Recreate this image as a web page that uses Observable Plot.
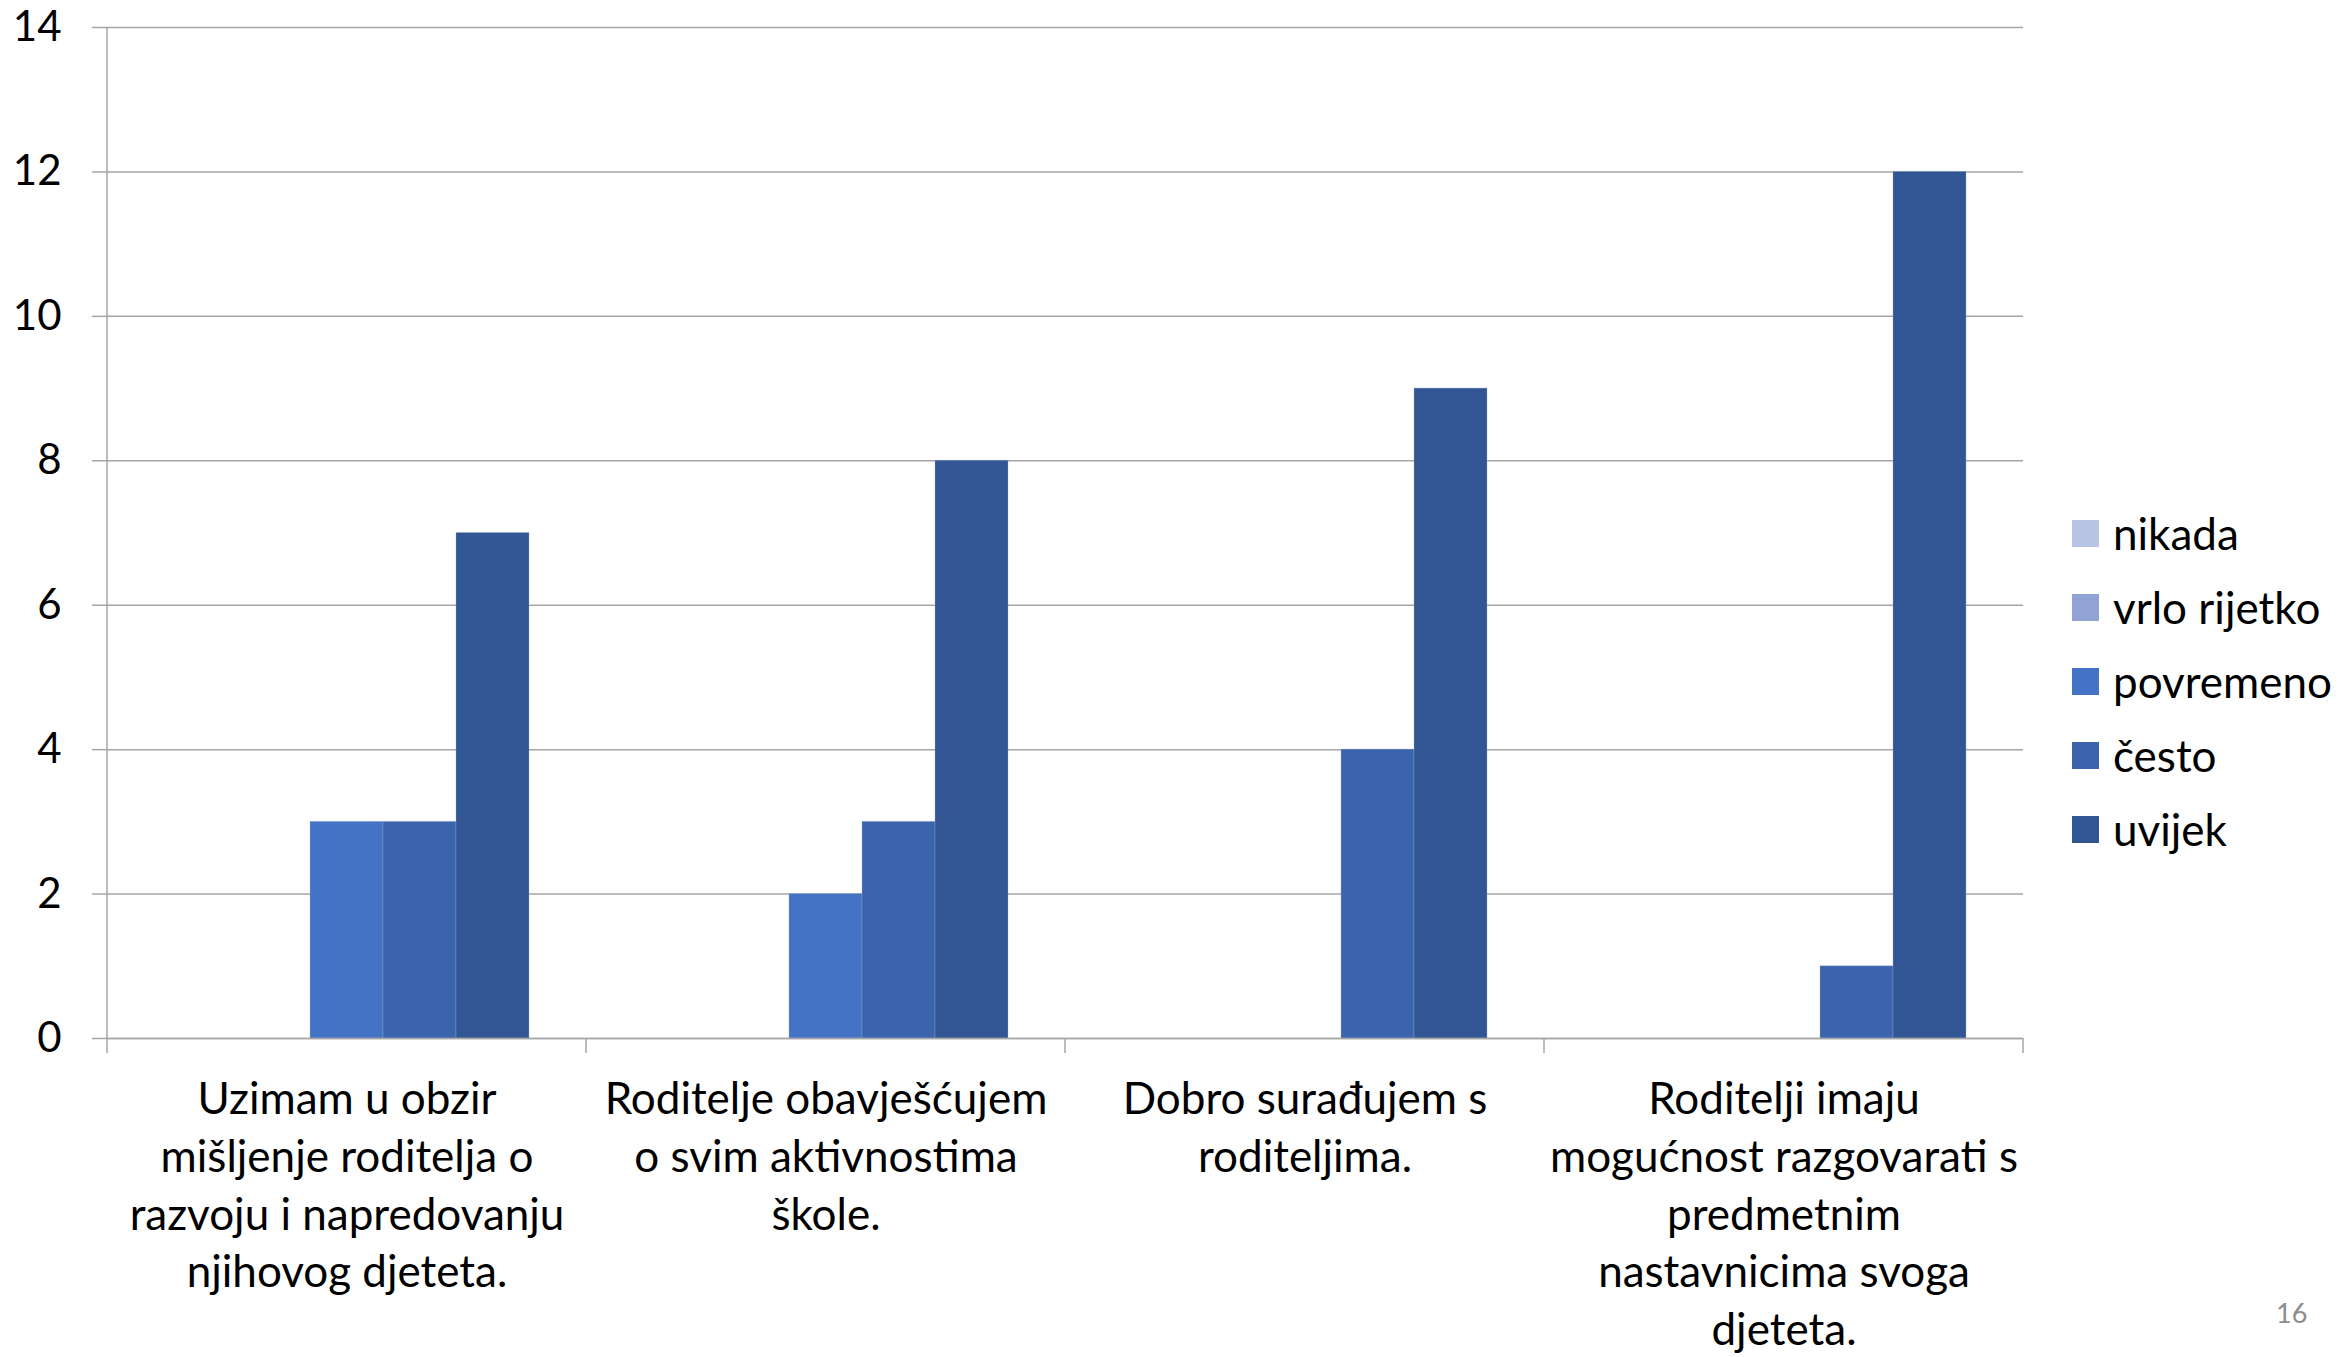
<!DOCTYPE html>
<html>
<head>
<meta charset="utf-8">
<script src="https://cdn.jsdelivr.net/npm/d3@7"></script>
<script src="https://cdn.jsdelivr.net/npm/@observablehq/plot@0.6"></script>
<style>
  html, body { margin: 0; padding: 0; background: #fff; }
  #wrap { position: relative; width: 2346px; height: 1357px; font-family: Lato, "Open Sans", sans-serif; }
  #wrap svg { display: block; }
  #legend { position: absolute; left: 2072px; top: 496px; }
  .row { display: flex; align-items: center; height: 74px; font-size: 44px; color: #000; }
  .sw { width: 27px; height: 27px; margin-right: 14px; }
  #page { position: absolute; left: 2276px; top: 1296px; font-size: 27px; color: #8C8C8C; }
</style>
</head>
<body>
<div id="wrap"></div>
<script>
const categories = [
  "Uzimam u obzir\nmišljenje roditelja o\nrazvoju i napredovanju\nnjihovog djeteta.",
  "Roditelje obavješćujem\no svim aktivnostima\nškole.",
  "Dobro surađujem s\nroditeljima.",
  "Roditelji imaju\nmogućnost razgovarati s\npredmetnim\nnastavnicima svoga\ndjeteta."
];
const series = ["nikada", "vrlo rijetko", "povremeno", "često", "uvijek"];
const nikada      = [0, 0, 0, 0];
const vrloRijetko = [0, 0, 0, 0];
const povremeno   = [3, 2, 0, 0];
const cesto       = [3, 3, 4, 1];
const uvijek      = [7, 8, 9, 12];
const colors = ["#B9C3E3", "#90A3D4", "#4472C4", "#3B64AD", "#325594"];
const yTicks = [0, 2, 4, 6, 8, 10, 12, 14];
const pageNumber = "16";

const valuesBySeries = [nikada, vrloRijetko, povremeno, cesto, uvijek];
const data = [];
categories.forEach((c, i) => series.forEach((s, j) => data.push({category: c, series: s, value: valuesBySeries[j][i]})));

const gridColor = "#A6A6A6";
const plot = Plot.plot({
  width: 2346, height: 1357,
  marginLeft: 105, marginRight: 322, marginTop: 27, marginBottom: 319,
  style: {fontFamily: "Lato, 'Open Sans', sans-serif", fontSize: "42px", color: "#000", background: "#fff", overflow: "visible"},
  fx: {domain: categories, padding: 0, label: null},
  x: {domain: series, paddingInner: 0, paddingOuter: 0.766, axis: null},
  y: {domain: [0, 14], label: null},
  color: {domain: series, range: colors},
  marks: [
    Plot.ruleY(yTicks, {stroke: gridColor, strokeWidth: 1.5}),
    Plot.barY(data, {fx: "category", x: "series", y: "value", fill: "series", stroke: "#9fb0d8", strokeOpacity: 0.35, strokeWidth: 1}),
    Plot.ruleY([0], {stroke: gridColor, strokeWidth: 1.5}),
    Plot.axisY({ticks: yTicks, tickSize: 15, tickPadding: 31, stroke: gridColor, strokeWidth: 1.5, fill: "#000", fontSize: 42, label: null}),
    Plot.axisFx({anchor: "bottom", tickSize: 0, tickPadding: 35, lineHeight: 1.31, fontSize: 44, fill: "#000", label: null})
  ]
});

// category boundary ticks and y-axis line, placed with the plot's own scales
const fx = plot.scale("fx"), y = plot.scale("y");
const svg = d3.select(plot);
const y0 = y.apply(0), yTop = y.apply(14);
const bounds = categories.map(c => fx.apply(c));
bounds.push(fx.apply(categories[categories.length - 1]) + fx.bandwidth);
bounds.forEach((bx, i) => {
  svg.append("line")
    .attr("x1", bx).attr("x2", bx)
    .attr("y1", i === 0 ? yTop : y0).attr("y2", y0 + 15)
    .attr("stroke", gridColor).attr("stroke-width", 1.5);
});

const wrap = document.getElementById("wrap");
wrap.appendChild(plot);

const legend = document.createElement("div");
legend.id = "legend";
series.forEach((s, i) => {
  const row = document.createElement("div");
  row.className = "row";
  const sw = document.createElement("div");
  sw.className = "sw";
  sw.style.background = colors[i];
  const t = document.createElement("span");
  t.textContent = s;
  row.appendChild(sw); row.appendChild(t);
  legend.appendChild(row);
});
wrap.appendChild(legend);

const page = document.createElement("div");
page.id = "page";
page.textContent = pageNumber;
wrap.appendChild(page);
</script>
</body>
</html>
